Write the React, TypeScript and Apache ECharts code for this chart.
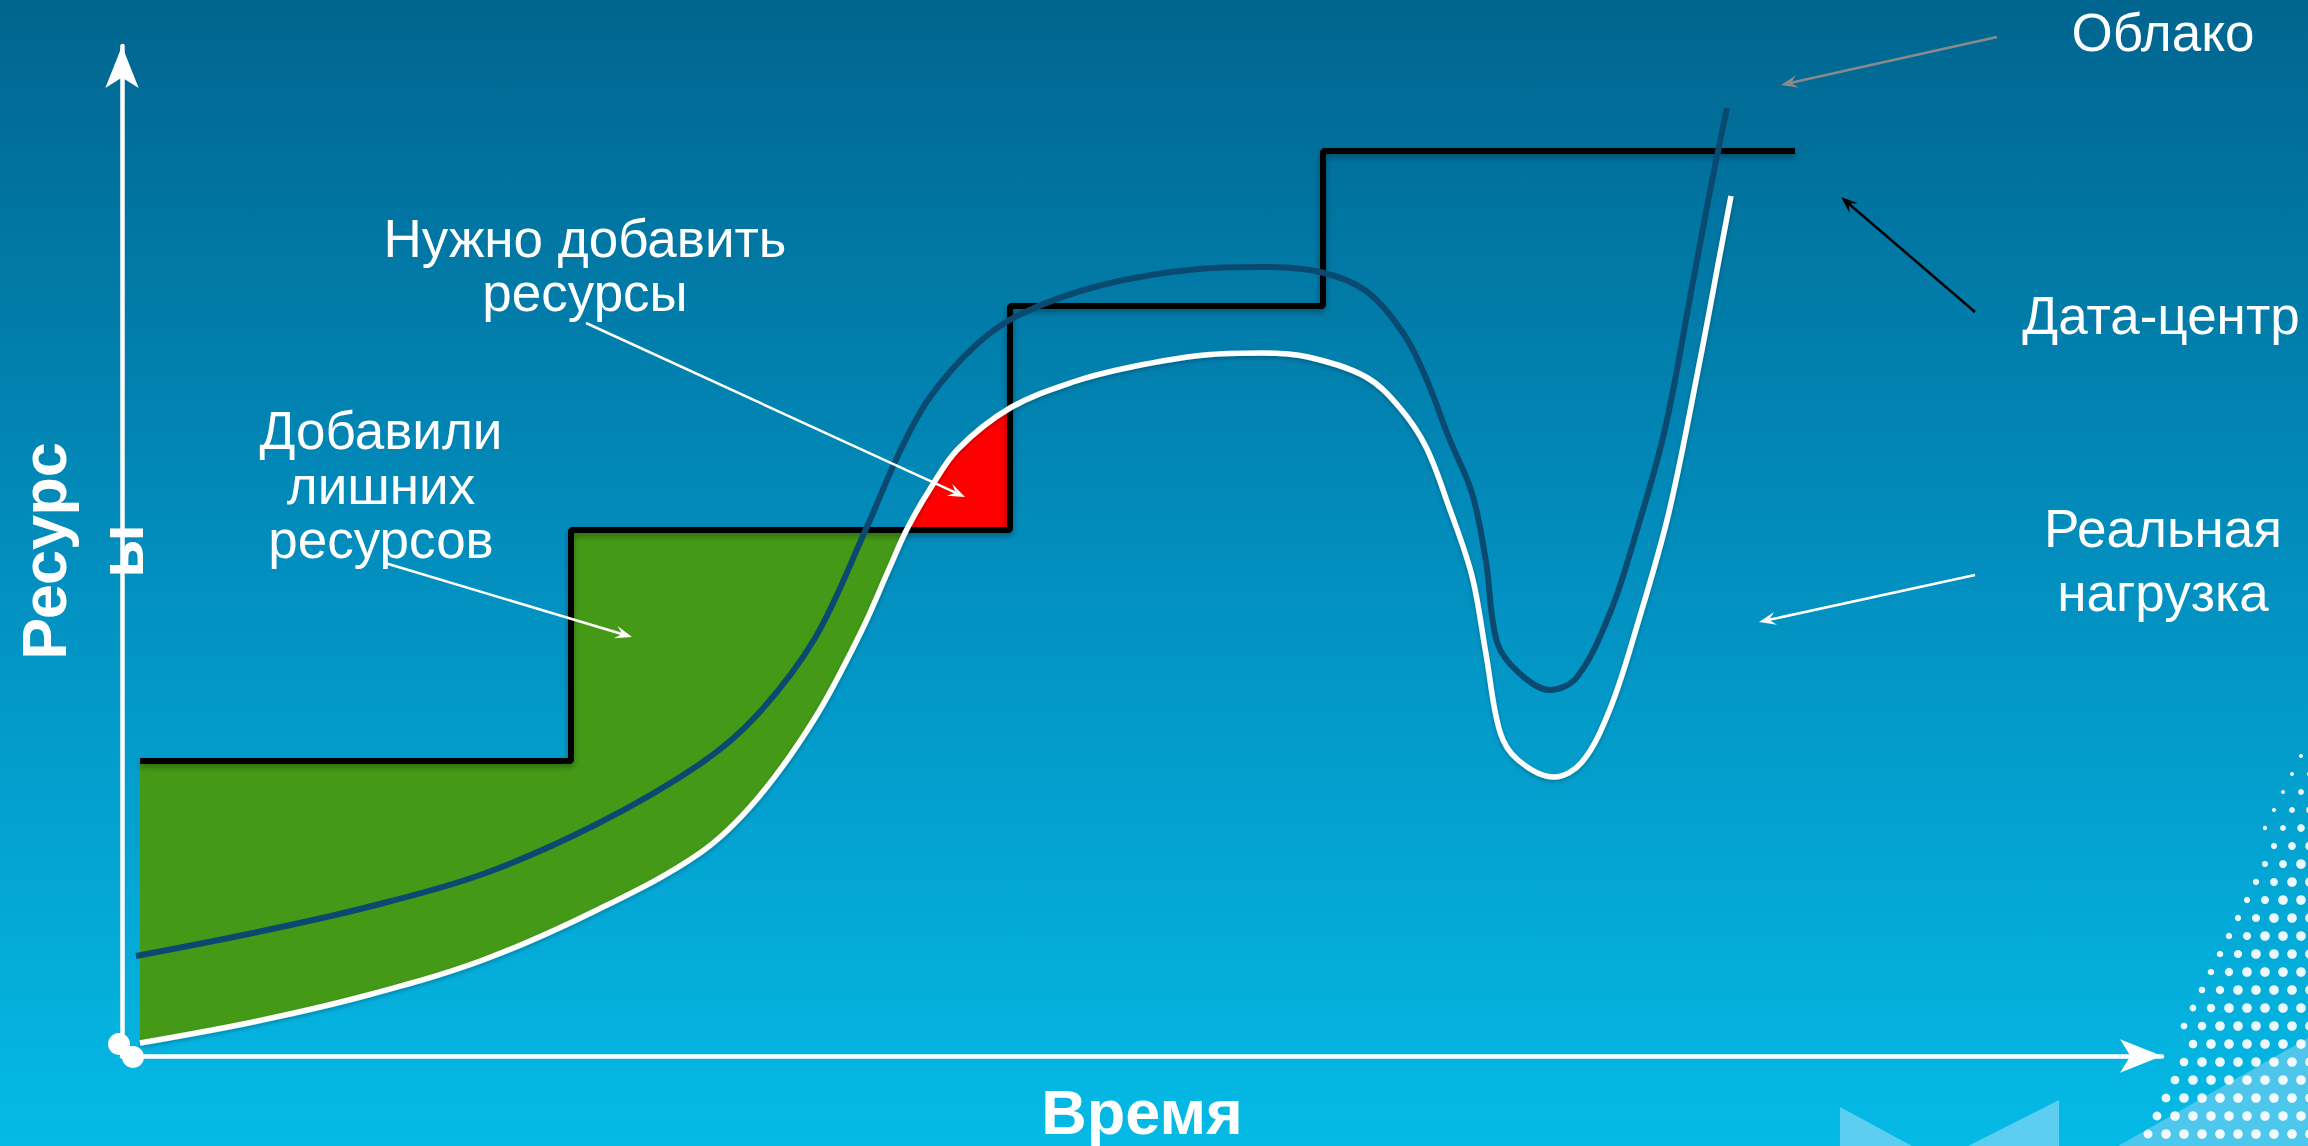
import React, { useEffect, useRef } from "react";
import * as echarts from "echarts";

// ---------- data (x: time units, y: resource units) ----------
const stepX = [0.9, 22.45, 44.4, 60.05, 83.65];
const stepLevels = [29.5, 52.6, 75.0, 90.5];

const loadX = [0.9, 6.55, 12.3, 18.05, 23.75, 28.9, 31.75, 34.65, 36.95, 38.35, 39.25, 40.4, 41.8, 44.4, 47.55, 50.45, 54.15, 57.05, 59.3, 62.2, 63.9, 65.2, 66.35, 67.5, 68.2, 68.9, 69.8, 71.6, 73.0, 74.4, 75.75, 77.35, 78.95, 79.9, 80.45];
const loadY = [1.3, 3.4, 6.1, 9.6, 14.6, 20.3, 25.7, 33.8, 42.4, 48.7, 52.7, 56.7, 60.7, 64.8, 67.4, 68.9, 70.1, 70.3, 69.9, 67.9, 64.8, 60.9, 54.9, 48.0, 40.2, 32.4, 29.6, 27.9, 29.4, 34.7, 43.0, 54.4, 70.1, 80.2, 86.0];

const cloudX = [0.7, 6.55, 12.3, 18.05, 23.75, 28.9, 31.75, 34.65, 37.2, 38.95, 40.4, 42.7, 44.95, 49.0, 53.85, 57.05, 59.9, 62.2, 64.05, 65.2, 66.35, 67.5, 68.2, 68.75, 69.8, 71.4, 72.75, 74.4, 75.75, 77.15, 78.5, 79.45, 80.25];
const cloudY = [10.0, 12.3, 14.9, 18.2, 23.2, 29.2, 34.1, 41.8, 52.7, 60.7, 65.9, 71.1, 74.2, 77.1, 78.7, 78.9, 78.4, 76.5, 72.3, 67.8, 61.8, 56.3, 49.4, 41.4, 38.4, 36.6, 37.9, 44.3, 52.6, 62.7, 76.9, 87.0, 94.8];

const xAxisTitle = "Время";
const yAxisTitle = "Ресурс\nы";

const labelTexts = {
  cloud: "Облако",
  dc: "Дата-центр",
  load: "Реальная\nнагрузка",
  need: "Нужно добавить\nресурсы",
  extra: "Добавили\nлишних\nресурсов",
};

// ---------- layout (pixels) ----------
const W = 2308;
const H = 1146;
const FONT = "'Liberation Sans', Arial, Helvetica, sans-serif";

const labelLayout = [
  { key: "cloud", x: 2163, y: 32, lh: 53 },
  { key: "dc", x: 2161, y: 315, lh: 53 },
  { key: "load", x: 2163, y: 560, lh: 64 },
  { key: "need", x: 585, y: 265, lh: 54 },
  { key: "extra", x: 381, y: 485, lh: 54.5 },
];

const arrowLayout = [
  { from: [586, 323], to: [965, 497], color: "#ffffff", width: 2.5 },
  { from: [385, 563], to: [632, 637], color: "#ffffff", width: 2.5 },
  { from: [1997, 37], to: [1781, 85], color: "#8a8a8a", width: 2.5 },
  { from: [1975, 312], to: [1841, 197], color: "#000000", width: 2.5 },
  { from: [1975, 575], to: [1759, 622], color: "#ffffff", width: 2.5 },
];

function pairs(xs: number[], ys: number[]) {
  return xs.map((x, i) => [x, ys[i]]);
}

function crossing(pts: number[][], level: number, xmin: number, xmax: number) {
  for (let i = 0; i < pts.length - 1; i++) {
    const [x1, y1] = pts[i];
    const [x2, y2] = pts[i + 1];
    if (x1 >= xmin && x2 <= xmax && (y1 - level) * (y2 - level) <= 0 && y1 !== y2) {
      const t = (level - y1) / (y2 - y1);
      return [x1 + t * (x2 - x1), level];
    }
  }
  return [xmin, level];
}

function arrowGraphics(a: any) {
  const [sx, sy] = a.from;
  const [ex, ey] = a.to;
  const dx = ex - sx;
  const dy = ey - sy;
  const len = Math.hypot(dx, dy);
  const ux = dx / len;
  const uy = dy / len;
  const nx = -uy;
  const ny = ux;
  const L = 17;
  const hw = 6.5;
  return [
    {
      type: "line",
      z: 100,
      silent: true,
      shape: { x1: sx, y1: sy, x2: ex - ux * 8, y2: ey - uy * 8 },
      style: { stroke: a.color, lineWidth: a.width },
    },
    {
      type: "polygon",
      z: 100,
      silent: true,
      shape: {
        points: [
          [ex, ey],
          [ex - ux * L + nx * hw, ey - uy * L + ny * hw],
          [ex - ux * L * 0.6, ey - uy * L * 0.6],
          [ex - ux * L - nx * hw, ey - uy * L - ny * hw],
        ],
      },
      style: { fill: a.color },
    },
  ];
}

function decorGraphics() {
  const els: any[] = [];
  const light = "rgba(120,214,245,0.75)";
  els.push({ type: "polygon", z: 0, silent: true, shape: { points: [[1840, 1107], [1840, 1146], [1912, 1146]] }, style: { fill: light } });
  els.push({ type: "polygon", z: 0, silent: true, shape: { points: [[2059, 1100], [2059, 1146], [1968, 1146]] }, style: { fill: light } });
  els.push({ type: "polygon", z: 0, silent: true, shape: { points: [[2308, 1038], [2308, 1146], [2118, 1146]] }, style: { fill: "rgba(110,205,240,0.7)" } });
  const step = 18;
  for (let row = 0; 738 + row * step < H + 4; row++) {
    const y = 738 + row * step;
    const xEdge = 2305 - (y - 728) * (170 / 418);
    for (let x = W + 2 - (row % 2) * (step / 2); x > xEdge; x -= step) {
      const t = Math.min(1, (x - xEdge) / 70 + (y - 728) / 520);
      els.push({
        type: "circle",
        z: 1,
        silent: true,
        shape: { cx: x, cy: y, r: 1.5 + 3.3 * t },
        style: { fill: "rgba(255,255,255,0.92)" },
      });
    }
  }
  return els;
}

export default function App() {
  const ref = useRef<HTMLDivElement>(null);

  useEffect(() => {
    document.body.style.margin = "0";
    const chart = echarts.init(ref.current as HTMLDivElement, null, { renderer: "svg" });

    const loadPts = pairs(loadX, loadY);
    const cloudPts = pairs(cloudX, cloudY);
    const stepPts: number[][] = [];
    stepLevels.forEach((lv, i) => {
      stepPts.push([stepX[i], lv]);
      stepPts.push([stepX[i + 1], lv]);
    });

    const cross = crossing(loadPts, stepLevels[1], stepX[1], stepX[2]);
    const greenPoly = [
      [stepX[0], stepLevels[0]],
      [stepX[1], stepLevels[0]],
      [stepX[1], stepLevels[1]],
      cross,
      ...loadPts.filter((p) => p[0] < cross[0] && p[0] >= stepX[0]).reverse(),
    ];
    const redPoly = [
      cross,
      [stepX[2], stepLevels[1]],
      ...loadPts.filter((p) => p[0] <= stepX[2] && p[0] > cross[0]).reverse(),
    ];

    const polySeries = (poly: number[][], color: string) => ({
      type: "custom",
      z: 1,
      silent: true,
      data: [[0, 0]],
      renderItem: (_params: any, api: any) => ({
        type: "polygon",
        shape: { points: poly.map((p) => api.coord(p)), smooth: 0 },
        style: { fill: color },
      }),
    });

    const axisCommon = {
      type: "value",
      axisLine: {
        show: true,
        symbol: ["none", "arrow"],
        symbolSize: [25, 42],
        lineStyle: { color: "#ffffff", width: 4.5 },
      },
      axisTick: { show: false },
      axisLabel: { show: false },
      splitLine: { show: false },
    };

    const graphics: any[] = [
      ...decorGraphics(),
      { type: "circle", z: 50, silent: true, shape: { cx: 119, cy: 1044, r: 11 }, style: { fill: "#ffffff" } },
      { type: "circle", z: 50, silent: true, shape: { cx: 133, cy: 1057, r: 11 }, style: { fill: "#ffffff" } },
      ...labelLayout.map((l) => ({
        type: "text",
        z: 100,
        silent: true,
        x: l.x,
        y: l.y,
        style: {
          text: (labelTexts as any)[l.key],
          fill: "#ffffff",
          fontSize: 53,
          fontFamily: FONT,
          lineHeight: l.lh,
          align: "center",
          verticalAlign: "middle",
          textAlign: "center",
          textVerticalAlign: "middle",
        },
      })),
      ...arrowLayout.flatMap(arrowGraphics),
    ];

    const option: any = {
      animation: false,
      backgroundColor: {
        type: "linear",
        x: 0,
        y: 0,
        x2: 0,
        y2: 1,
        colorStops: [
          { offset: 0, color: "#00658f" },
          { offset: 0.5, color: "#028fbf" },
          { offset: 1, color: "#05bae6" },
        ],
      },
      grid: {
        left: 122,
        top: 46,
        width: 2040,
        height: 1010,
        containLabel: false,
        outerBoundsMode: "none",
      },
      xAxis: {
        ...axisCommon,
        min: 0,
        max: 102,
        name: xAxisTitle,
        nameLocation: "middle",
        nameGap: 24,
        nameTextStyle: {
          color: "#ffffff",
          fontSize: 63,
          fontWeight: "bold",
          fontFamily: FONT,
          lineHeight: 63,
        },
      },
      yAxis: {
        ...axisCommon,
        min: 0,
        max: 101,
        name: yAxisTitle,
        nameLocation: "middle",
        nameRotate: 90,
        nameGap: -43,
        nameTextStyle: {
          color: "#ffffff",
          fontSize: 63,
          fontWeight: "bold",
          fontFamily: FONT,
          lineHeight: 77,
          align: "center",
          padding: [0, 0, 6, 0],
        },
      },
      graphic: { elements: graphics },
      series: [
        polySeries(greenPoly, "#449a17"),
        polySeries(redPoly, "#ff0000"),
        {
          type: "line",
          name: "Дата-центр",
          z: 3,
          data: stepPts,
          showSymbol: false,
          symbol: "none",
          silent: true,
          lineStyle: {
            color: "#000000",
            width: 6,
            shadowColor: "rgba(0,0,0,0.35)",
            shadowBlur: 6,
            shadowOffsetY: 3,
          },
        },
        {
          type: "line",
          name: "Облако",
          z: 4,
          data: cloudPts,
          smooth: 0.35,
          showSymbol: false,
          symbol: "none",
          silent: true,
          lineStyle: { color: "#0b4a70", width: 6 },
        },
        {
          type: "line",
          name: "Реальная нагрузка",
          z: 5,
          data: loadPts,
          smooth: 0.35,
          showSymbol: false,
          symbol: "none",
          silent: true,
          lineStyle: {
            color: "#ffffff",
            width: 5.5,
            shadowColor: "rgba(0,0,0,0.25)",
            shadowBlur: 4,
            shadowOffsetY: 2,
          },
        },
      ],
    };

    chart.setOption(option);
    return () => chart.dispose();
  }, []);

  return <div ref={ref} style={{ width: W, height: H, position: "absolute", left: 0, top: 0 }} />;
}
